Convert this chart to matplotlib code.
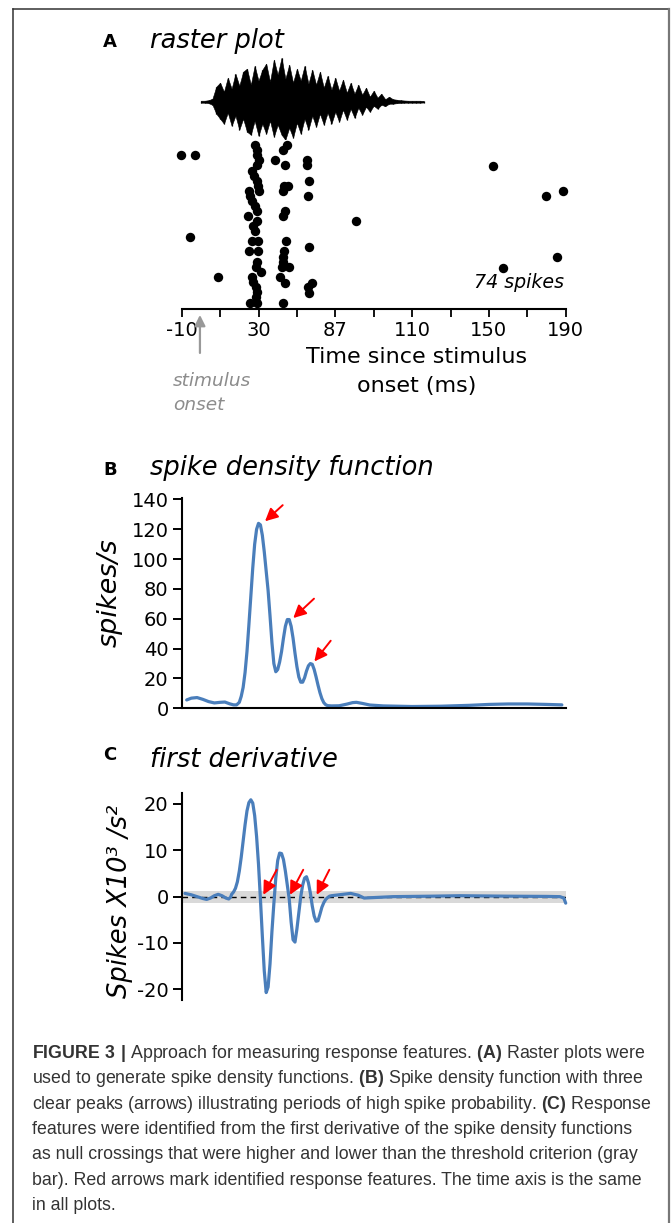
import matplotlib
matplotlib.use('Agg')
import matplotlib.pyplot as plt
from matplotlib.lines import Line2D

# ---------------- data ----------------
# raster: spike times (ms) and trial rows
spike_times = [28.2, 29.4, 29.4, 30.4, 29.4, 26.5, 27.7, 29.0, 29.9, 30.4, 25.2, 25.6, 26.5, 28.2, 29.4,
               24.7, 29.4, 27.3, 28.2, 26.5, 29.9, 25.1, 29.9, 29.4, 28.7, 31.1, 26.5, 27.3, 28.7, 29.4,
               28.7, 25.6, 29.4,
               44.7, 42.9, 38.6, 43.8, 43.3, 45.5, 42.9, 43.8, 42.9, 44.3, 43.3, 42.9, 42.6, 42.1, 46.0,
               41.2, 43.8, 42.6,
               55.1, 55.5, 56.5, 55.8, 56.5, 57.7, 55.8, 56.5,
               -10.5, -3.2, -5.7, 9.0, 81.0, 152.0, 157.5, 179.6, 188.8, 185.3]
spike_trials = [32.7, 31.7, 30.7, 29.7, 28.7, 27.5, 26.5, 25.5, 24.5, 23.5, 23.5, 22.5, 21.5, 20.5, 19.5,
                18.5, 17.5, 16.5, 15.5, 13.5, 13.5, 11.5, 11.5, 9.3, 8.3, 7.3, 6.3, 5.3, 4.3, 3.3,
                2.3, 1.0, 1.0,
                32.7, 31.7, 29.6, 28.7, 24.5, 24.5, 23.5, 19.5, 18.5, 13.5, 11.5, 10.3, 9.3, 8.3, 8.3,
                6.3, 5.1, 1.0,
                29.7, 28.7, 25.5, 22.5, 12.2, 5.1, 4.3, 3.0,
                30.7, 30.7, 14.3, 6.2, 17.5, 28.5, 8.1, 22.5, 23.5, 10.2]

# stimulus oscillogram envelope (ms, upper / lower excursion)
wave_t = [0, 2, 4, 6, 8, 10, 12, 14, 16, 18, 20, 22, 24, 26, 28, 30, 32, 34, 36, 38,
          40, 42, 44, 46, 48, 50, 52, 54, 56, 58, 60, 62, 64, 66, 68, 70, 72, 74, 76, 78,
          80, 82, 84, 86, 88, 90, 92, 94, 96, 98, 100, 102, 104, 106, 108, 110, 112, 114, 116]
wave_up = [1, 1, 1.5, 3, 15, 19, 10, 24, 13, 28, 16, 30, 33, 17, 36, 21, 32, 38, 20, 42,
           27, 44, 23, 37, 19, 33, 21, 36, 18, 32, 17, 30, 14, 26, 12, 24, 11, 22, 9, 19,
           8, 17, 7, 14, 5, 11, 4, 8, 2.5, 5, 2.5, 2, 1.5, 1.2, 1, 1, 1, 1, 0.8]
wave_lo = [1, 1, 1.5, 3, 12, 17, 22, 11, 24, 14, 28, 17, 30, 33, 19, 34, 22, 32, 19, 35,
           23, 33, 38, 26, 36, 21, 32, 17, 28, 14, 25, 12, 23, 11, 22, 10, 20, 8, 18, 7,
           16, 6, 13, 5, 10, 4, 7, 3, 4.5, 2, 2, 1.5, 1.2, 1, 1, 1, 1, 1, 0.8]

# spike density function
sdf_t = [-7.4, -5, -2, 1, 4, 7, 10, 12.5, 15, 17, 18.6,
         20, 21, 22, 23, 24, 25, 26, 27, 28, 29, 30, 31, 32, 33, 34, 35, 36, 37, 38, 39,
         40, 41, 42, 43, 44, 45, 46, 47, 48, 49, 50, 51, 52, 53, 54, 55, 56, 57, 58, 59,
         60, 61, 62, 63, 64, 65, 66,
         68, 72, 76, 79, 81, 84, 88, 95, 110, 125, 140, 150, 160, 170, 180, 188]
sdf_v = [5.6, 6.8, 7.2, 6.0, 4.5, 3.6, 4.0, 4.2, 3.0, 2.3, 2.3,
         4.0, 8, 14, 24, 38, 56, 75, 94, 110, 120, 124, 123, 116, 105, 92, 79, 62, 44, 30, 24.5,
         26, 31, 38, 47, 55, 59.5, 59.5, 55, 47, 37, 28, 21, 17.5, 17.5, 20.5, 25, 28.5, 30, 29.5, 26,
         21, 15.5, 10.5, 6.5, 3.8, 2.4, 1.8,
         1.6, 1.7, 2.8, 3.8, 4.0, 3.3, 2.2, 1.6, 1.2, 1.4, 2.0, 2.6, 2.9, 2.9, 2.6, 2.3]

# first derivative (x10^3 spikes/s^2)
der_t = [-8.3, -5, -2, 1, 3, 5, 7, 9, 11, 13, 14.5, 15.5,
         16, 17, 18, 19, 20, 21, 22, 23, 24, 25, 26, 27, 28, 29, 30, 31, 32, 33, 34, 35,
         36, 37, 38, 39, 40, 41, 42, 43, 44, 45, 46, 47, 48, 49, 50, 51, 52, 53, 54, 55,
         56, 57, 58, 59, 60, 61, 62, 63, 64, 65, 66, 67, 68,
         70, 74, 78, 82, 85, 90, 100, 120, 135, 160, 180, 187, 189, 190]
der_v = [0.7, 0.4, 0.0, -0.4, -0.6, -0.3, 0.2, 0.5, 0.2, -0.3, -0.5, -0.1,
         0.5, 1.0, 1.8, 3.2, 5.5, 8.5, 12.0, 15.5, 18.5, 20.3, 20.9, 20.2, 17.5, 13.0, 7.0, -0.5,
         -8.5, -16.0, -20.7, -19.5,
         -14.5, -7.5, -1.5, 4.0, 7.8, 9.4, 9.3, 8.0, 5.5, 2.5, -0.5, -5.5, -9.3, -9.8, -7.0, -3.5,
         0.0, 2.5, 4.0, 4.3,
         3.0, 0.8, -2.0, -4.2, -5.3, -5.2, -3.8, -2.3, -1.3, -0.6, -0.2, 0.1, 0.2,
         0.3, 0.5, 0.7, 0.3, -0.3, -0.2, 0.0, 0.1, 0.2, 0.1, 0.05, 0.0, -0.3, -1.4]
threshold = 1.3

# arrows: (tail_t, tail_v, head_t, head_v)
sdf_arrows = [(42.6, 136.2, 33.4, 125.4), (58.9, 73.5, 48.1, 60.5), (67.6, 45.3, 59.1, 31.4)]
der_arrows = [(39.5, 5.8, 32.5, 0.4), (53.3, 5.8, 46.4, 0.4), (66.9, 5.8, 60.3, 0.4)]

raster_ticks = [-10, 10, 30, 50, 70, 90, 110, 130, 150, 170, 190]
raster_ticklabels = ['-10', '', '30', '', '87', '', '110', '', '150', '', '190']
sdf_ticks = [0, 20, 40, 60, 80, 100, 120, 140]
der_ticks = [20, 10, 0, -10, -20]
der_ticklabels = ['20', '10', '0', '-10', '-20']

caption_lines = [
    r"$\mathbf{FIGURE\ 3\ |}$ Approach for measuring response features. $\mathbf{(A)}$ Raster plots were",
    r"used to generate spike density functions. $\mathbf{(B)}$ Spike density function with three",
    r"clear peaks (arrows) illustrating periods of high spike probability. $\mathbf{(C)}$ Response",
    r"features were identified from the first derivative of the spike density functions",
    r"as null crossings that were higher and lower than the threshold criterion (gray",
    r"bar). Red arrows mark identified response features. The time axis is the same",
    r"in all plots.",
]

# ---------------- figure ----------------
W, H = 672, 1223
plt.rcParams['font.family'] = ['DejaVu Sans']
plt.rcParams['mathtext.fontset'] = 'custom'
plt.rcParams['mathtext.rm'] = 'Liberation Sans'
plt.rcParams['mathtext.bf'] = 'Liberation Sans:bold'
fig = plt.figure(figsize=(W / 100, H / 100), dpi=100)


def fx(x):
    return x / W


def fy(y):
    return 1 - y / H


def axes_px(left, top, right, bottom):
    return fig.add_axes([fx(left), fy(bottom), (right - left) / W, (bottom - top) / H])


X0, X1 = 181.7, 565.7
XLIM = (-10, 190)
BLUE = '#4a7ebb'

# waveform
ax_w = axes_px(X0, 50, X1, 145)
ax_w.set_xlim(XLIM)
ax_w.set_ylim(-43.3, 51.7)
ax_w.fill_between(wave_t, [-v for v in wave_lo], wave_up, color='black', lw=0.4)
ax_w.vlines(wave_t, [-v for v in wave_lo], wave_up, color='black', lw=0.9)
ax_w.axis('off')

# raster
ax_r = axes_px(X0, 140, X1, 309)
ax_r.scatter(spike_times, spike_trials, s=46, c='black', linewidths=0, clip_on=False)
ax_r.set_xlim(XLIM)
ax_r.set_ylim(-0.14, 33.66)
for s in ['left', 'top', 'right']:
    ax_r.spines[s].set_visible(False)
ax_r.spines['bottom'].set_linewidth(1.5)
ax_r.set_yticks([])
ax_r.set_xticks(raster_ticks)
ax_r.set_xticklabels(raster_ticklabels)
ax_r.tick_params(axis='x', direction='out', length=5.5, width=1.3, labelsize=14, pad=3.5)
ax_r.text(189, 4.0, '74 spikes', ha='right', va='baseline', fontsize=13.7, style='italic')
ax_r.annotate('', xy=(-0.5, -0.035), xycoords=ax_r.get_xaxis_transform(),
              xytext=(-0.5, -0.26), textcoords=ax_r.get_xaxis_transform(),
              arrowprops=dict(arrowstyle='-|>', color='#999999', lw=1.6, mutation_scale=16,
                              shrinkA=0, shrinkB=0))

fig.text(fx(173), fy(386), 'stimulus', fontsize=13.3, style='italic', color='#8c8c8c',
         ha='left', va='baseline')
fig.text(fx(173), fy(410), 'onset', fontsize=13.3, style='italic', color='#8c8c8c',
         ha='left', va='baseline')
fig.text(fx(416.7), fy(363.3), 'Time since stimulus', fontsize=16, ha='center', va='baseline')
fig.text(fx(416.7), fy(391.7), 'onset (ms)', fontsize=16, ha='center', va='baseline')

# spike density function
ax_b = axes_px(X0, 498, X1, 708.3)
ax_b.plot(sdf_t, sdf_v, color=BLUE, lw=2.3, solid_capstyle='round')
ax_b.set_xlim(XLIM)
ax_b.set_ylim(0, 141)
for s in ['top', 'right']:
    ax_b.spines[s].set_visible(False)
ax_b.spines['left'].set_linewidth(1.5)
ax_b.spines['bottom'].set_linewidth(1.5)
ax_b.set_xticks([])
ax_b.set_yticks(sdf_ticks)
ax_b.tick_params(axis='y', direction='out', length=6.5, width=1.4, labelsize=14, pad=3)
for tt, tv, ht, hv in sdf_arrows:
    ax_b.annotate('', xy=(ht, hv), xytext=(tt, tv),
                  arrowprops=dict(arrowstyle='-|>', color='red', lw=1.4, mutation_scale=19,
                                  shrinkA=0, shrinkB=0), annotation_clip=False)
fig.text(fx(110), fy(593), 'spikes/s', fontsize=19.5, style='italic', rotation=90,
         ha='center', va='center')

# first derivative
ax_c = axes_px(X0, 793.3, X1, 1000)
ax_c.axhspan(-threshold, threshold, color='#d9d9d9', lw=0, zorder=1)
ax_c.axhline(0, color='black', lw=1.0, ls=(0, (4, 3)), zorder=2)
ax_c.plot(der_t, der_v, color=BLUE, lw=2.3, zorder=3, solid_capstyle='round', clip_on=False)
ax_c.set_xlim(XLIM)
ax_c.set_ylim(-22.3, 22.3)
for s in ['top', 'right', 'bottom']:
    ax_c.spines[s].set_visible(False)
ax_c.spines['left'].set_linewidth(1.5)
ax_c.set_xticks([])
ax_c.set_yticks(der_ticks)
ax_c.set_yticklabels(der_ticklabels)
ax_c.tick_params(axis='y', direction='out', length=6.5, width=1.4, labelsize=14, pad=3)
for tt, tv, ht, hv in der_arrows:
    ax_c.annotate('', xy=(ht, hv), xytext=(tt, tv),
                  arrowprops=dict(arrowstyle='-|>', color='red', lw=1.4, mutation_scale=20,
                                  shrinkA=0, shrinkB=0), zorder=4)
fig.text(fx(120), fy(901), 'Spikes X10³ /s²', fontsize=18.5, style='italic', rotation=90,
         ha='center', va='center')

# panel letters and titles
for letter, base in [('A', 46.7), ('B', 475), ('C', 760)]:
    fig.text(fx(103), fy(base), letter, fontsize=13, fontweight='bold', ha='left', va='baseline')
for title, base in [('raster plot', 48.3), ('spike density function', 475), ('first derivative', 767.3)]:
    fig.text(fx(150), fy(base), title, fontsize=18.5, style='italic', ha='left', va='baseline')

# caption
for k, line in enumerate(caption_lines):
    fig.text(fx(32), fy(1058 + 25.33 * k), line, fontsize=12.75, color='#333333',
             family='Liberation Sans', ha='left', va='baseline')

# frame
fig.add_artist(Line2D([fx(13), fx(13)], [fy(9), 0], transform=fig.transFigure, color='#333333', lw=1.1))
fig.add_artist(Line2D([fx(13), fx(669)], [fy(9), fy(9)], transform=fig.transFigure, color='#333333', lw=1.1))
fig.add_artist(Line2D([fx(669), fx(669)], [fy(9), 0], transform=fig.transFigure, color='#777777', lw=1.6))

fig.savefig('out.png', dpi=100)
